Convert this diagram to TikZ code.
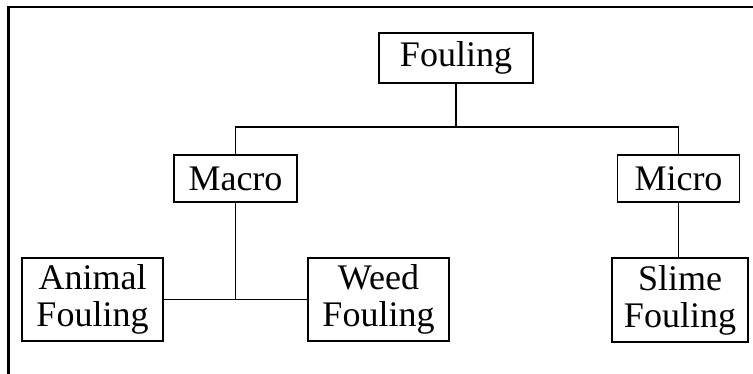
\documentclass[tikz,border=0pt]{standalone}
\usepackage{fontspec}
\setmainfont{Liberation Serif}
\begin{document}
\begin{tikzpicture}[x=1pt,y=-1pt,
  catbox/.style={draw, line width=1.4pt, rectangle, inner sep=0pt, align=center,
    font=\fontsize{36}{37}\selectfont},
  link/.style={line width=1.4pt}]
  \useasboundingbox (0,0) rectangle (753,374);
  % open frame along the top and left edges
  \draw[line width=2.6pt] (8.5,374) -- (8.5,7) -- (753,7);

  % category boxes
  \node[catbox, minimum width=154pt, minimum height=50pt] (fouling) at (456,58) {Fouling};
  \node[catbox, minimum width=123pt, minimum height=47pt] (macro) at (235.5,178.5) {Macro};
  \node[catbox, minimum width=122pt, minimum height=47pt] (micro) at (678.5,178.5) {Micro};
  \node[catbox, minimum width=141pt, minimum height=83pt] (animal) at (92.5,299.5) {Animal\\Fouling};
  \node[catbox, minimum width=141pt, minimum height=83pt] (weed) at (378.5,299.5) {Weed\\Fouling};
  \node[catbox, minimum width=136pt, minimum height=84pt] (slime) at (680,300) {Slime\\Fouling};

  % connectors
  \coordinate (bus) at (456,127);
  \coordinate (join) at (235.5,299.5);
  \draw[link] (fouling.south) -- (bus);
  \draw[link] (macro.north) |- (bus) -| (micro.north);
  \draw[link] (macro.south) -- (join);
  \draw[link] (animal.east) -- (weed.west);
  \draw[link] (micro.south) -- (micro.south |- slime.north);
\end{tikzpicture}
\end{document}
